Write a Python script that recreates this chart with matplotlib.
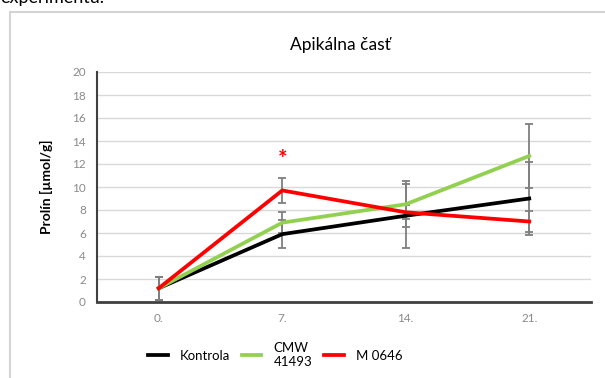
import numpy as np
import matplotlib.pyplot as plt
from matplotlib.patches import Rectangle

plt.rcParams['font.family'] = ['Lato', 'DejaVu Sans']

days = ["0.", "7.", "14.", "21."]
kontrola = [1.2, 5.9, 7.5, 9.0]
kontrola_err = [1.0, 1.2, 2.8, 3.2]
cmw = [1.2, 6.9, 8.5, 12.7]
cmw_err = [1.0, 0.9, 2.0, 2.8]
m0646 = [1.2, 9.7, 7.8, 7.0]
m0646_err = [1.0, 1.1, 0.6, 0.9]
star_day = 1
star_value = 12.4

W, H = 605, 378
fig = plt.figure(figsize=(W / 100, H / 100), dpi=100)

# frame of the embedded chart
fig.patches.append(Rectangle((10 / W, -0.1), 1.1, 1.1 - 12 / H, transform=fig.transFigure,
                             facecolor='none', edgecolor='#d4d4d4', linewidth=1.5, zorder=0))
fig.text(0.0, 1.0 + 2 / H, "experimentu.", fontsize=13, ha='left', va='center', color='black')

ax = fig.add_axes([97 / W, (H - 302) / H, (591 - 97) / W, 230 / H])
ax.set_facecolor('none')
x = np.arange(len(days))

series = [(kontrola, kontrola_err, "Kontrola", "#000000"),
          (cmw, cmw_err, "CMW\n41493", "#92d050"),
          (m0646, m0646_err, "M 0646", "#ff0000")]
for vals, err, name, col in series:
    ax.errorbar(x, vals, yerr=err, fmt='none', ecolor='#7f7f7f', elinewidth=1.3,
                capsize=3, capthick=1.3, zorder=2)
for vals, err, name, col in series:
    ax.plot(x, vals, color=col, linewidth=2.7, label=name, zorder=3)

ax.text(star_day, star_value, '*', color='#ff0000', ha='center', va='center', fontsize=16, fontweight='bold')

ax.set_xlim(-0.5, 3.5)
ax.set_ylim(0, 20)
ax.set_yticks(np.arange(0, 21, 2))
ax.set_xticks(x)
ax.set_xticklabels(days)
ax.tick_params(length=0, labelsize=8.5, colors='#8a8a8a', pad=8)
ax.yaxis.grid(True, color='#d9d9d9', linewidth=1)
ax.set_axisbelow(True)
for s in ['top', 'right']:
    ax.spines[s].set_visible(False)
ax.spines['left'].set_color('#404040')
ax.spines['left'].set_linewidth(1.5)
ax.spines['bottom'].set_color('#404040')
ax.spines['bottom'].set_linewidth(2)

ax.set_ylabel("Prolín [µmol/g]", fontsize=10, fontweight='bold', labelpad=14)

fig.text(340 / W, 1 - 45 / H, "Apikálna časť", fontsize=12.5, ha='center', va='center')

fig.legend(loc='center', bbox_to_anchor=(275 / W, 1 - 355 / H), ncol=3, frameon=False,
           fontsize=9.5, handlelength=1.5, columnspacing=0.9, handletextpad=0.9)

fig.savefig("out.png", dpi=100)
